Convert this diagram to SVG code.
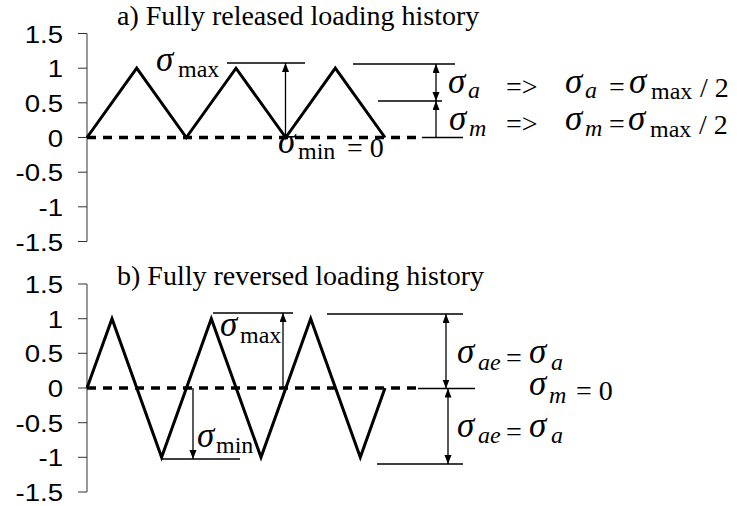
<svg xmlns="http://www.w3.org/2000/svg" width="737" height="506" viewBox="0 0 737 506">
<style>
.ax{stroke:#333;stroke-width:1;fill:none}
.wave{stroke:#000;stroke-width:3;fill:none;stroke-linejoin:miter}
.dash{stroke:#000;stroke-width:3.5;stroke-dasharray:9 7;fill:none}
.ref{stroke:#000;stroke-width:1.3;fill:none}
.arr{stroke:#000;stroke-width:1.3;fill:none;marker-end:url(#ah)}
.darr{stroke:#000;stroke-width:1.3;fill:none;marker-end:url(#ah);marker-start:url(#ah)}
.tick{font-family:"Liberation Sans",Arial,sans-serif;font-size:24px;text-anchor:end;fill:#000}
.t{font-family:"Liberation Serif","Times New Roman",serif;font-size:28px;fill:#000}
.s{font-family:"Liberation Serif","Times New Roman",serif;font-size:35px;font-style:italic;fill:#000}
.sub{font-family:"Liberation Serif","Times New Roman",serif;font-size:24px;fill:#000}
.subi{font-family:"Liberation Serif","Times New Roman",serif;font-size:24px;font-style:italic;fill:#000}
</style>
<defs>
<marker id="ah" markerUnits="userSpaceOnUse" markerWidth="10" markerHeight="8" refX="9" refY="3.5" orient="auto-start-reverse">
<path d="M0,0 L9,3.5 L0,7 z" fill="#000"/>
</marker>
</defs>
<rect width="737" height="506" fill="#fff"/>

<g id="chart-a">
<text class="t" x="117" y="25">a) Fully released loading history</text>
<g id="axis-a">
<path class="ax" d="M87,33.5 V241.5 M78,33.5 H87 M78,68.2 H87 M78,102.8 H87 M78,137.5 H87 M78,172.2 H87 M78,206.8 H87 M78,241.5 H87"/>
<text class="tick" transform="translate(63,42.5) scale(1.15,1)">1.5</text>
<text class="tick" transform="translate(63,77.2) scale(1.15,1)">1</text>
<text class="tick" transform="translate(63,111.8) scale(1.15,1)">0.5</text>
<text class="tick" transform="translate(63,146.5) scale(1.15,1)">0</text>
<text class="tick" transform="translate(63,181.2) scale(1.15,1)">-0.5</text>
<text class="tick" transform="translate(63,215.8) scale(1.15,1)">-1</text>
<text class="tick" transform="translate(63,250.5) scale(1.15,1)">-1.5</text>
</g>
<path class="dash" d="M87,137.5 H421"/>
<polyline class="wave" points="87,137.5 136.7,68.2 186.3,137.5 236,68.2 285.7,137.5 335.3,68.2 385,137.5"/>
</g>

<g id="chart-b">
<text class="t" x="117" y="285">b) Fully reversed loading history</text>
<g id="axis-b">
<path class="ax" d="M87,284 V492 M78,284 H87 M78,318.7 H87 M78,353.3 H87 M78,388 H87 M78,422.7 H87 M78,457.3 H87 M78,492 H87"/>
<text class="tick" transform="translate(63,293) scale(1.15,1)">1.5</text>
<text class="tick" transform="translate(63,327.7) scale(1.15,1)">1</text>
<text class="tick" transform="translate(63,362.3) scale(1.15,1)">0.5</text>
<text class="tick" transform="translate(63,397) scale(1.15,1)">0</text>
<text class="tick" transform="translate(63,431.7) scale(1.15,1)">-0.5</text>
<text class="tick" transform="translate(63,466.3) scale(1.15,1)">-1</text>
<text class="tick" transform="translate(63,501) scale(1.15,1)">-1.5</text>
</g>
<path class="dash" d="M87,388 H419"/>
<polyline class="wave" points="87,388 112,318.7 161.6,457.3 211.3,318.7 261,457.3 310.7,318.7 360.3,457.3 385,388"/>
</g>

<g id="connectors">
<path class="ref" d="M227,63 H305 M353,64 H455 M378,101 H442 M422,137.5 H463"/>
<line class="arr" x1="285.5" y1="137.5" x2="285.5" y2="63"/>
<line class="darr" x1="436" y1="64" x2="436" y2="101"/>
<line class="arr" x1="436" y1="137.5" x2="436" y2="101"/>
<path class="ref" d="M213,313 H293 M162,459 H240 M327,314 H463 M418,388.5 H475 M377,464 H463"/>
<line class="arr" x1="283" y1="388" x2="283" y2="313"/>
<line class="arr" x1="193" y1="388" x2="193" y2="459"/>
<line class="darr" x1="446" y1="314" x2="446" y2="388.5"/>
<line class="darr" x1="448" y1="388.5" x2="448" y2="464"/>
</g>

<g id="labels-a">
<text class="s" x="156" y="71">σ</text><text class="sub" x="178" y="77">max</text>
<text class="s" x="278" y="153">σ</text><text class="sub" x="298" y="159">min</text><text class="t" x="347" y="157">= 0</text>
<text class="s" x="448" y="93">σ</text><text class="subi" x="468" y="98">a</text>
<text class="t" x="506" y="96">=&gt;</text>
<text class="s" x="565" y="93">σ</text><text class="subi" x="585" y="98">a</text>
<text class="t" x="609" y="96">=</text>
<text class="s" x="629" y="93">σ</text><text class="sub" x="651" y="99">max</text>
<text class="t" x="700" y="97">/ 2</text>
<text class="s" x="449" y="130">σ</text><text class="subi" x="469" y="136">m</text>
<text class="t" x="506" y="133">=&gt;</text>
<text class="s" x="565" y="130">σ</text><text class="subi" x="585" y="136">m</text>
<text class="t" x="609" y="133">=</text>
<text class="s" x="628" y="130">σ</text><text class="sub" x="650" y="137">max</text>
<text class="t" x="699" y="134">/ 2</text>
</g>

<g id="labels-b">
<text class="s" x="220" y="336">σ</text><text class="sub" x="240" y="343">max</text>
<text class="s" x="197" y="447">σ</text><text class="sub" x="216" y="453">min</text>
<text class="s" x="457" y="363">σ</text><text class="subi" x="478" y="370">ae</text>
<text class="t" x="506" y="367">=</text>
<text class="s" x="529" y="363">σ</text><text class="subi" x="551" y="370">a</text>
<text class="s" x="529" y="395">σ</text><text class="subi" x="549" y="403">m</text>
<text class="t" x="576" y="400">= 0</text>
<text class="s" x="457" y="437">σ</text><text class="subi" x="478" y="443">ae</text>
<text class="t" x="506" y="441">=</text>
<text class="s" x="529" y="437">σ</text><text class="subi" x="551" y="443">a</text>
</g>
</svg>
